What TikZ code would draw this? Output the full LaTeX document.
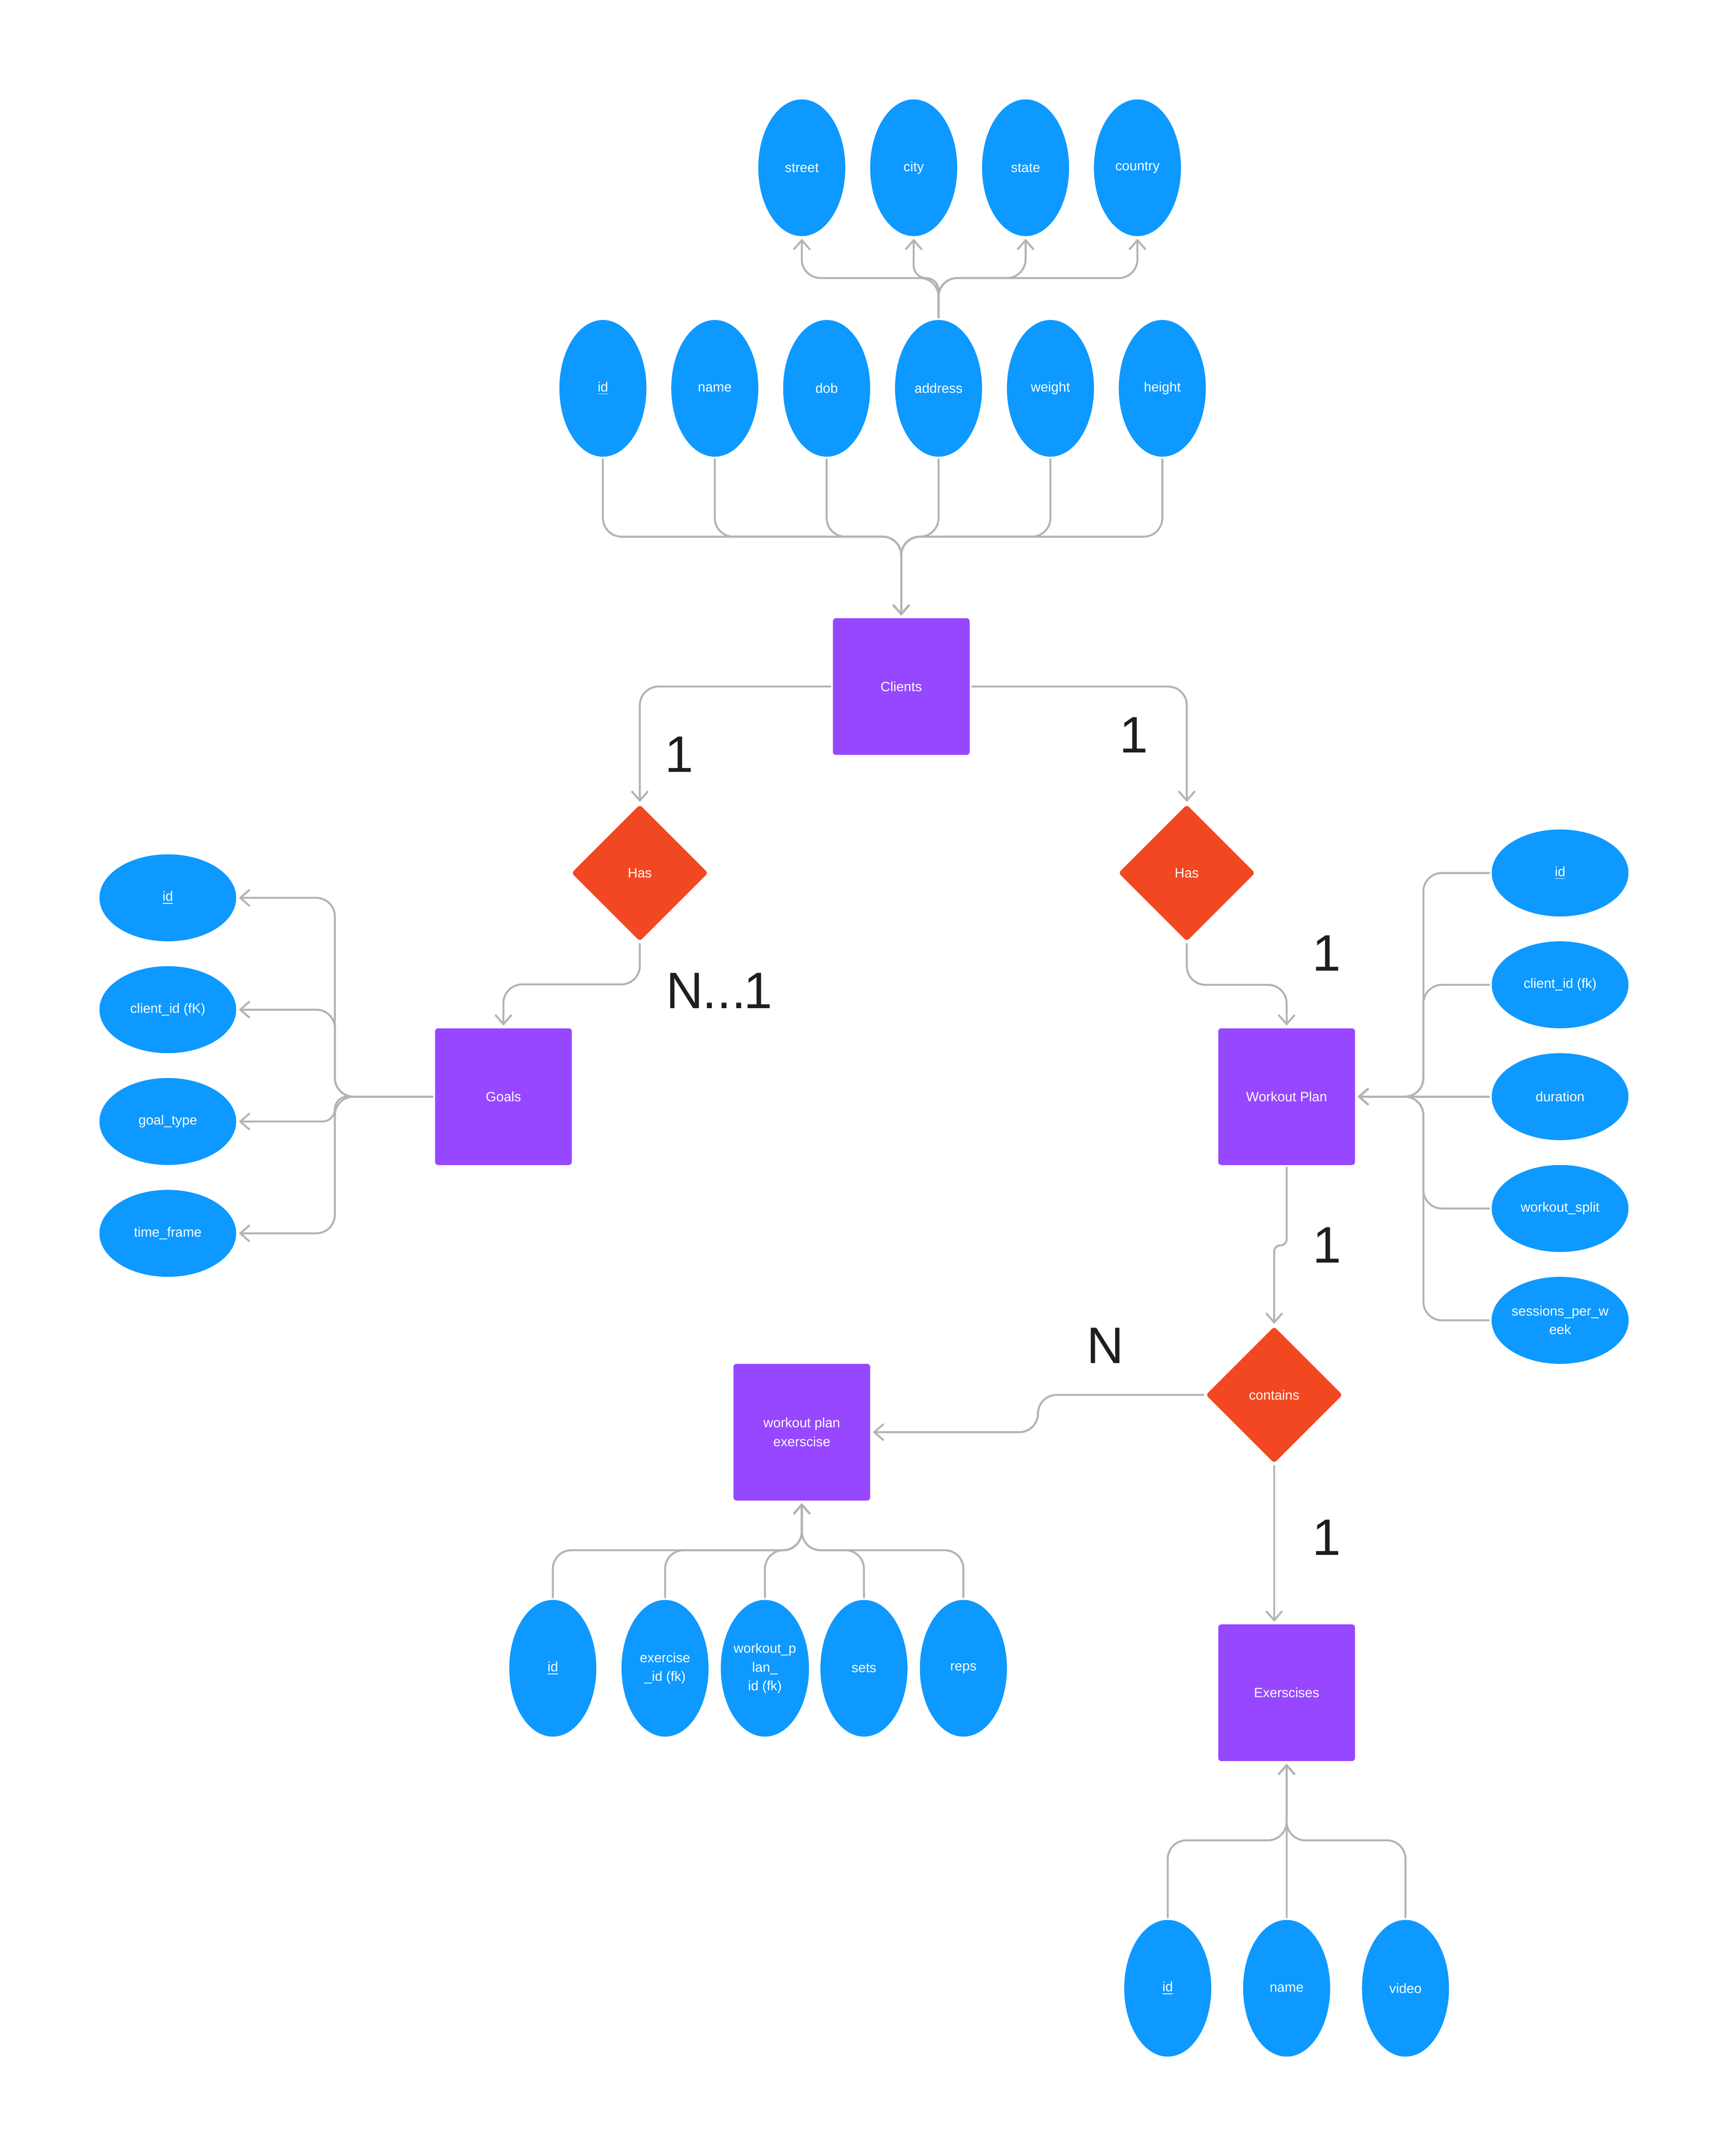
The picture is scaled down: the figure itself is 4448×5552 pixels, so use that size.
\documentclass[tikz,border=0pt]{standalone}
\usepackage{fontspec}
\setmainfont{Liberation Sans}
\usetikzlibrary{shapes.geometric,arrows.meta}
\definecolor{attrblue}{HTML}{0D99FF}
\definecolor{entpurple}{HTML}{9747FF}
\definecolor{relred}{HTML}{F24822}
\definecolor{linegray}{HTML}{B3B3B3}
\definecolor{labelink}{HTML}{1E1E1E}
\newcommand{\smallfont}{\fontsize{8.7}{12}\selectfont}
\begin{document}
\begin{tikzpicture}[x=0.25pt,y=-0.25pt,
  attrtall/.style={ellipse, fill=attrblue, minimum width=56pt, minimum height=88pt, inner sep=0pt, text=white, font=\smallfont, align=center},
  attrwide/.style={ellipse, fill=attrblue, minimum width=88pt, minimum height=56pt, inner sep=0pt, text=white, font=\smallfont, align=center},
  entity/.style={rectangle, rounded corners=2pt, fill=entpurple, minimum width=88pt, minimum height=88pt, inner sep=0pt, text=white, font=\smallfont, align=center},
  relation/.style={diamond, fill=relred, minimum width=88pt, minimum height=88pt, inner sep=0pt, rounded corners=2pt, text=white, font=\smallfont},
  conn/.style={draw=linegray, line width=1.25pt, line cap=round, line join=round, rounded corners=12pt, shorten <=1.5pt, shorten >=1.5pt, -{Straight Barb[length=6pt,width=10.5pt]}},
  card/.style={text=labelink, font=\fontsize{33}{36}\selectfont, inner sep=0pt}
]
\fill[white] (0,0) rectangle (4448,5552);
\useasboundingbox (0,0) rectangle (4448,5552);

% top address attributes
\node[attrtall] (street) at (2064,432) {street};
\node[attrtall] (city) at (2352,432) {city};
\node[attrtall] (state) at (2640,432) {state};
\node[attrtall] (country) at (2928,432) {country};

% client attributes
\node[attrtall] (cid) at (1552,1000) {\underline{id}};
\node[attrtall] (cname) at (1840,1000) {name};
\node[attrtall] (dob) at (2128,1000) {dob};
\node[attrtall] (address) at (2416,1000) {address};
\node[attrtall] (weight) at (2704,1000) {weight};
\node[attrtall] (height) at (2992,1000) {height};

% entities and relations
\node[entity] (clients) at (2320,1768) {Clients};
\node[relation] (has1) at (1647,2248) {Has};
\node[relation] (has2) at (3055,2248) {Has};
\node[entity] (goals) at (1296,2824) {Goals};
\node[entity] (wp) at (3312,2824) {Workout Plan};
\node[relation] (contains) at (3280,3592) {contains};
\node[entity] (wpe) at (2064,3688) {workout plan\\exerscise};
\node[entity] (ex) at (3312,4359) {Exerscises};

% goals attributes
\node[attrwide] (gid) at (432,2312) {\underline{id}};
\node[attrwide] (gcid) at (432,2600) {client\_id (fK)};
\node[attrwide] (gtype) at (432,2888) {goal\_type};
\node[attrwide] (gtime) at (432,3176) {time\_frame};

% workout plan attributes
\node[attrwide] (wid) at (4016,2248) {\underline{id}};
\node[attrwide] (wcid) at (4016,2536) {client\_id (fk)};
\node[attrwide] (wdur) at (4016,2824) {duration};
\node[attrwide] (wsplit) at (4016,3112) {workout\_split};
\node[attrwide] (wsess) at (4016,3400) {sessions\_per\_w\\eek};

% workout plan exercise attributes
\node[attrtall] (eid) at (1423,4296) {\underline{id}};
\node[attrtall] (eexid) at (1712,4296) {exercise\\\_id (fk)};
\node[attrtall] (ewpid) at (1969,4296) {workout\_p\\lan\_\\id (fk)};
\node[attrtall] (esets) at (2224,4296) {sets};
\node[attrtall] (ereps) at (2480,4296) {reps};

% exercise attributes
\node[attrtall] (xid) at (3006,5120) {\underline{id}};
\node[attrtall] (xname) at (3312,5120) {name};
\node[attrtall] (xvideo) at (3618,5120) {video};

% cardinalities
\node[card] (c1) at (1748,1943) {1};
\node[card] (c2) at (2919,1893) {1};
\node[card] (c3) at (1852,2551) {N\kern-0.02em.\kern0.01em.\kern0.01em.\kern-0.04em 1};
\node[card] (c4) at (3415,2455) {1};
\node[card] (c5) at (3416,3206) {1};
\node[card] (c6) at (2845,3465) {N};
\node[card] (c7) at (3415,3959) {1};

% address -> sub attributes
\draw[conn] (address.north) -- (2416,716) -| (street.south);
\draw[conn, rounded corners=8pt] (address.north) -- (2416,716) -| (city.south);
\draw[conn] (address.north) -- (2416,716) -| (state.south);
\draw[conn] (address.north) -- (2416,716) -| (country.south);

% client attributes -> clients
\foreach \a in {cid,cname,dob,address,weight,height}{
  \draw[conn] (\a.south) -- (\a.south |- 0,1382) -| (clients.north);
}

% clients -> has
\draw[conn] (clients.west) -| (has1.north);
\draw[conn] (clients.east) -| (has2.north);

% has -> goals / workout plan
\draw[conn] (has1.south) -- (1647,2535) -| (goals.north);
\draw[conn] (has2.south) -- (3055,2536) -| (wp.north);

% goals -> attributes
\draw[conn] (goals.west) -- (862,2824) |- (gid.east);
\draw[conn] (goals.west) -- (862,2824) |- (gcid.east);
\draw[conn, rounded corners=8pt] (goals.west) -- (862,2824) |- (gtype.east);
\draw[conn] (goals.west) -- (862,2824) |- (gtime.east);

% workout plan attributes -> workout plan
\draw[conn] (wid.west) -- (3664,2248) |- (wp.east);
\draw[conn] (wcid.west) -- (3664,2536) |- (wp.east);
\draw[conn] (wdur.west) -- (wp.east);
\draw[conn] (wsplit.west) -- (3664,3112) |- (wp.east);
\draw[conn] (wsess.west) -- (3664,3400) |- (wp.east);

% workout plan -> contains
\draw[conn, rounded corners=4pt] (wp.south) -- (3312,3207) -- (3280,3207) -- (contains.north);

% contains -> workout plan exercise
\draw[conn] (contains.west) -- (2672,3592) -- (2672,3688) -- (wpe.east);

% contains -> exercises
\draw[conn] (contains.south) -- (contains.south |- ex.north);

% wpe attributes -> wpe
\foreach \a in {eid,eexid,ewpid,esets,ereps}{
  \draw[conn] (\a.north) -- (\a.north |- 0,3992) -| (wpe.south);
}

% exercise attributes -> exercises
\foreach \a in {xid,xname,xvideo}{
  \draw[conn] (\a.north) -- (\a.north |- 0,4739) -| (ex.south);
}
\end{tikzpicture}
\end{document}
